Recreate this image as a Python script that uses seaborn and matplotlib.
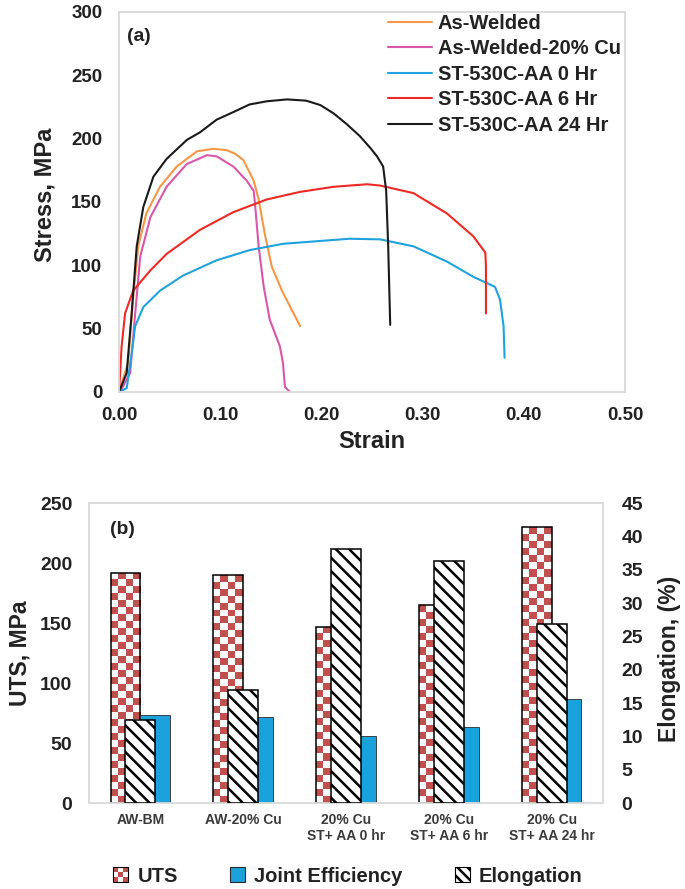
import numpy as np
import pandas as pd
import matplotlib
matplotlib.use('Agg')
import matplotlib.pyplot as plt
import seaborn as sns
from matplotlib.patches import Patch, Rectangle
from matplotlib.colors import ListedColormap
from matplotlib.legend_handler import HandlerBase

# ---------------- data: (a) stress-strain curves ----------------
aw_strain = [0.0, 0.009, 0.014, 0.019, 0.027, 0.0405, 0.057, 0.077, 0.093, 0.106, 0.115, 0.123, 0.133, 0.138, 0.144, 0.151, 0.161, 0.179]
aw_stress = [0, 23, 75, 115, 141, 162, 178, 190, 192, 191, 188, 183, 167, 152, 125, 99, 80, 52]

cu_strain = [0.001, 0.011, 0.016, 0.021, 0.031, 0.047, 0.067, 0.087, 0.0965, 0.113, 0.126, 0.133, 0.134, 0.138, 0.143, 0.149, 0.159, 0.162, 0.164, 0.169]
cu_stress = [0, 15, 62, 107, 138, 162, 180, 187, 186, 178, 167, 159, 152, 115, 83, 57, 36, 23, 4, 0]

aa0_strain = [0.0, 0.0076, 0.0125, 0.016, 0.024, 0.0405, 0.0635, 0.0965, 0.129, 0.162, 0.195, 0.228, 0.258, 0.291, 0.324, 0.350, 0.3715, 0.3765, 0.380, 0.381]
aa0_stress = [0, 3, 30, 52, 67, 80, 92, 104, 112, 117, 119, 121, 120.5, 115, 103, 91, 83, 73, 52, 27]

aa6_strain = [0.0, 0.0026, 0.006, 0.014, 0.031, 0.047, 0.080, 0.113, 0.146, 0.179, 0.212, 0.245, 0.258, 0.291, 0.324, 0.350, 0.362, 0.3626, 0.3626]
aa6_stress = [0, 36, 62, 80, 96, 109, 128, 142, 152, 158, 162, 164, 163, 157, 141, 123, 110, 99, 62]

aa24_strain = [0.0, 0.0076, 0.0125, 0.0175, 0.024, 0.034, 0.047, 0.067, 0.080, 0.0965, 0.113, 0.129, 0.146, 0.166, 0.185, 0.199, 0.212, 0.225, 0.238, 0.248, 0.255, 0.261, 0.264, 0.266, 0.268]
aa24_stress = [0, 15, 62, 115, 146, 170, 184, 199, 205, 215, 221, 227, 229.5, 231, 230, 226.5, 220, 211.5, 202, 193, 186, 178, 159, 115, 53]

curve_labels = ['As-Welded', 'As-Welded-20% Cu', 'ST-530C-AA 0 Hr', 'ST-530C-AA 6 Hr', 'ST-530C-AA 24 Hr']
curve_colors = ['#F79646', '#D957A8', '#1FA3E0', '#EE2A24', '#1A1A1A']

# ---------------- data: (b) bar chart ----------------
groups = ['AW-BM', 'AW-20% Cu', '20% Cu\nST+ AA 0 hr', '20% Cu\nST+ AA 6 hr', '20% Cu\nST+ AA 24 hr']
uts = [192, 190, 147, 165, 230]
joint_eff = [73, 72, 56, 63, 87]
elongation = [12.5, 17.0, 38.1, 36.3, 26.8]

UTS_RED = '#C0504D'
JE_BLUE = '#1BA1DC'
FRAME = '#D9D9D9'

DPI = 120
S = 100.0 / DPI   # keeps the pixel sizes designed for 100 dpi

sns.set_theme(style='white')
plt.rcParams['font.family'] = ['Liberation Sans', 'DejaVu Sans']
plt.rcParams['font.weight'] = 'bold'
plt.rcParams['hatch.linewidth'] = 2.5 * 72.0 / DPI   # ~2.5 px thick stripes

W, H = 685, 889
fig = plt.figure(figsize=(W / DPI, H / DPI), dpi=DPI)

def px_axes(l, t, r, b):
    return fig.add_axes([l / W, 1 - b / H, (r - l) / W, (b - t) / H])

# ================= (a) =================
axa = px_axes(119, 12, 625, 392)
series = [(aw_strain, aw_stress), (cu_strain, cu_stress), (aa0_strain, aa0_stress),
          (aa6_strain, aa6_stress), (aa24_strain, aa24_stress)]
for (xs, ys), lab, col in zip(series, curve_labels, curve_colors):
    sns.lineplot(x=xs, y=ys, ax=axa, sort=False, estimator=None, color=col,
                 linewidth=1.5 * S, label=lab)
axa.set_xlim(0, 0.5)
axa.set_ylim(0, 300)
axa.set_xticks(np.arange(0, 0.51, 0.1))
axa.set_xticklabels([f'{v:.2f}' for v in np.arange(0, 0.51, 0.1)])
axa.set_yticks(range(0, 301, 50))
axa.tick_params(axis='both', length=0, labelsize=13.5 * S, colors='#222222')
axa.tick_params(axis='y', pad=12 * S)
axa.tick_params(axis='x', pad=11 * S)
for t in axa.get_xticklabels() + axa.get_yticklabels():
    t.set_fontweight('bold')
for s in axa.spines.values():
    s.set_color(FRAME)
    s.set_linewidth(1.3 * S)
axa.set_xlabel('Strain', fontsize=17 * S, fontweight='bold', color='#222222')
axa.set_ylabel('Stress, MPa', fontsize=17 * S, fontweight='bold', color='#222222')
axa.xaxis.set_label_coords(0.5, -0.13)
axa.xaxis.label.set_va('center')
axa.yaxis.set_label_coords(-0.147, 0.52)
axa.yaxis.label.set_va('center')
axa.text(0.04, 0.935, '(a)', transform=axa.transAxes, fontsize=14 * S, fontweight='bold',
         ha='center', va='center', color='#222222')
leg = axa.legend(loc='upper left', bbox_to_anchor=(0.532, 0.995), frameon=False,
                 fontsize=14.5 * S, handlelength=2.2, handletextpad=0.25, labelspacing=0.32,
                 borderpad=0, borderaxespad=0)
for t in leg.get_texts():
    t.set_fontweight('bold')
    t.set_color('#222222')

# ================= (b) =================
axb = px_axes(89, 503, 603, 803)
df_b = pd.DataFrame({
    'group': groups * 2,
    'metric': ['UTS'] * len(groups) + ['Joint Efficiency'] * len(groups),
    'value': uts + joint_eff,
})
sns.barplot(data=df_b, x='group', y='value', hue='metric', order=groups,
            hue_order=['UTS', 'Joint Efficiency'],
            palette={'UTS': 'white', 'Joint Efficiency': JE_BLUE},
            width=0.58, saturation=1, ax=axb, legend=False)
axb.set_xlim(-0.5, len(groups) - 0.5)
axb.set_ylim(0, 250)

bars = list(axb.patches)
uts_bars = bars[:len(groups)]
je_bars = bars[len(groups):]
checker_cmap = ListedColormap(['white', UTS_RED])
for p in uts_bars:
    x0, w, h = p.get_x(), p.get_width(), p.get_height()
    ny = max(1, int(round(h * 1.2 / 7.0)))
    arr = (np.add.outer(np.arange(ny), np.arange(4)) % 2)
    im = axb.imshow(arr, extent=[x0, x0 + w, 0, h], origin='lower', aspect='auto',
                    interpolation='nearest', cmap=checker_cmap, vmin=0, vmax=1, zorder=1.5)
    im.set_clip_path(p)
    p.set_facecolor('none')
    p.set_edgecolor('black')
    p.set_linewidth(1.1 * S)
    p.set_zorder(2)
for p in je_bars:
    p.set_edgecolor('#2a2a2a')
    p.set_linewidth(0.6 * S)
    p.set_zorder(2)
axb.set_xlim(-0.5, len(groups) - 0.5)
axb.set_ylim(0, 250)

ax2 = axb.twinx()
sns.barplot(x=groups, y=elongation, order=groups, ax=ax2, width=0.29, color='white',
            saturation=1, edgecolor='black', linewidth=1.1 * S, hatch='\\\\\\')
ax2.set_ylim(0, 45)
ax2.set_yticks(range(0, 46, 5))
ax2.set_xlim(-0.5, len(groups) - 0.5)

axb.set_yticks(range(0, 251, 50))
axb.tick_params(axis='both', length=0)
axb.tick_params(axis='y', labelsize=14 * S, pad=12 * S, colors='#222222')
axb.tick_params(axis='x', labelsize=10 * S, pad=7 * S, colors='#3a3a3a')
ax2.tick_params(axis='y', length=0, labelsize=14 * S, pad=13.5 * S, colors='#222222')
for t in axb.get_xticklabels() + axb.get_yticklabels() + ax2.get_yticklabels():
    t.set_fontweight('bold')
axb.set_xlabel('')
ax2.set_xlabel('')
for s in axb.spines.values():
    s.set_color(FRAME)
    s.set_linewidth(1.3 * S)
for s in ax2.spines.values():
    s.set_visible(False)
axb.set_ylabel('UTS, MPa', fontsize=16.5 * S, fontweight='bold', color='#222222')
axb.yaxis.set_label_coords(-0.134, 0.5)
axb.yaxis.label.set_va('center')
ax2.set_ylabel('Elongation, (%)', fontsize=16.5 * S, fontweight='bold', color='#222222',
               rotation=90)
ax2.yaxis.set_label_coords(1.13, 0.48)
ax2.yaxis.label.set_va('center')
axb.text(0.065, 0.91, '(b)', transform=axb.transAxes, fontsize=14 * S, fontweight='bold',
         ha='center', va='center', color='#222222')


class CheckerHandler(HandlerBase):
    def create_artists(self, legend, orig_handle, xdescent, ydescent, width, height,
                       fontsize, trans):
        s = min(width, height)
        x0 = -xdescent + (width - s) / 2
        y0 = -ydescent + (height - s) / 2
        n = 3
        c = s / n
        arts = []
        for i in range(n):
            for j in range(n):
                col = UTS_RED if (i + j) % 2 == 0 else 'white'
                arts.append(Rectangle((x0 + i * c, y0 + j * c), c, c, facecolor=col,
                                      edgecolor='none', transform=trans))
        arts.append(Rectangle((x0, y0), s, s, facecolor='none', edgecolor='black',
                              linewidth=0.8 * S, transform=trans))
        return arts


class SquareHandler(HandlerBase):
    def create_artists(self, legend, orig_handle, xdescent, ydescent, width, height,
                       fontsize, trans):
        s = min(width, height)
        x0 = -xdescent + (width - s) / 2
        y0 = -ydescent + (height - s) / 2
        r = Rectangle((x0, y0), s, s, facecolor=orig_handle.get_facecolor(),
                      edgecolor=orig_handle.get_edgecolor(), hatch=orig_handle.get_hatch(),
                      linewidth=0.8 * S, transform=trans)
        return [r]


h_uts = Patch(facecolor=UTS_RED, edgecolor='black')
h_je = Patch(facecolor=JE_BLUE, edgecolor='#2a2a2a')
h_el = Patch(facecolor='white', edgecolor='black', hatch='\\\\\\\\')
bleg = fig.legend([h_uts, h_je, h_el], ['UTS', 'Joint Efficiency', 'Elongation'],
                  handler_map={h_uts: CheckerHandler(), h_je: SquareHandler(), h_el: SquareHandler()},
                  loc='center', bbox_to_anchor=(348 / W, 1 - 876 / H), ncol=3, frameon=False,
                  fontsize=14.5 * S, handlelength=0.75, handleheight=0.75, handletextpad=0.45,
                  columnspacing=2.6)
for t in bleg.get_texts():
    t.set_fontweight('bold')
    t.set_color('#222222')

fig.savefig('out.png', dpi=DPI)
